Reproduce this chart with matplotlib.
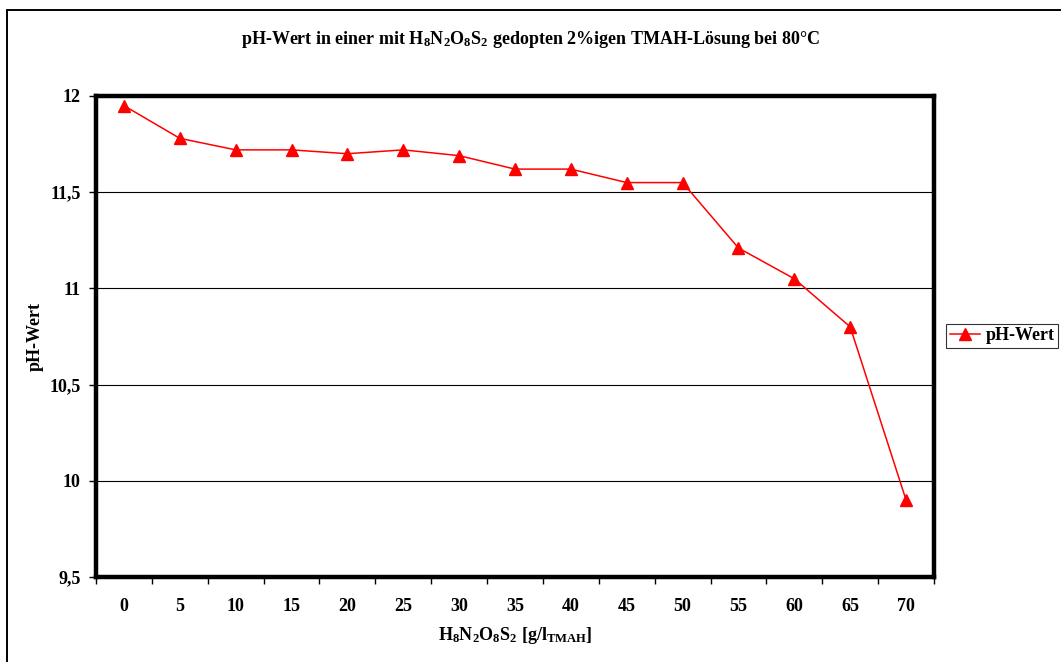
import matplotlib
matplotlib.use("Agg")
import matplotlib.pyplot as plt
from matplotlib.patches import Rectangle
from matplotlib.lines import Line2D

plt.rcParams['font.family'] = ['Liberation Serif', 'DejaVu Serif']
plt.rcParams['font.weight'] = 'bold'
plt.rcParams['mathtext.fontset'] = 'custom'
plt.rcParams['mathtext.rm'] = 'Liberation Serif:bold'
plt.rcParams['mathtext.bf'] = 'Liberation Serif:bold'
plt.rcParams['mathtext.it'] = 'Liberation Serif:bold'

# Dopant concentration categories and measured pH
categories = ['0', '5', '10', '15', '20', '25', '30', '35', '40', '45', '50', '55', '60', '65', '70']
ph_values = [11.95, 11.78, 11.72, 11.72, 11.70, 11.72, 11.69, 11.62, 11.62, 11.55, 11.55, 11.21, 11.05, 10.80, 9.90]
y_ticks = [9.5, 10, 10.5, 11, 11.5, 12]
y_tick_labels = ['9,5', '10', '10,5', '11', '11,5', '12']

FS = 13

fig = plt.figure(figsize=(10.61, 6.62), dpi=100)
ax = fig.add_axes([96 / 1061, 1 - 577 / 662, (934 - 96) / 1061, (577 - 96) / 662])

xs = list(range(len(categories)))
ax.plot(xs, ph_values, color='#ff0000', lw=1.1, marker='^', ms=8.5,
        markerfacecolor='#ff0000', markeredgecolor='#ff0000', zorder=3)

ax.set_xlim(-0.5, len(categories) - 0.5)
ax.set_ylim(9.5, 12)

# gridlines
for yv in y_ticks[1:-1]:
    ax.axhline(yv, color='black', lw=0.8, zorder=1)

# category axis: ticks on boundaries, labels at centres
ax.set_xticks([i - 0.5 for i in range(len(categories) + 1)])
ax.set_xticklabels([])
ax.set_xticks(xs, minor=True)
ax.set_xticklabels(categories, minor=True, fontsize=FS, fontweight='bold')
ax.tick_params(axis='x', which='major', direction='out', length=5, width=1, color='black')
ax.tick_params(axis='x', which='minor', length=0, pad=15)

ax.set_yticks(y_ticks)
ax.set_yticklabels(y_tick_labels, fontsize=FS, fontweight='bold')
ax.tick_params(axis='y', direction='out', length=5, width=1, pad=6)

for s in ax.spines.values():
    s.set_linewidth(3.2)
    s.set_color('black')

ax.set_ylabel('pH-Wert', fontsize=FS, fontweight='bold', labelpad=4)

fig.text(0.5, 1 - 40 / 662,
         r'pH-Wert in einer mit $\mathrm{H_8N_2O_8S_2}$ gedopten 2%igen TMAH-Lösung bei 80°C',
         ha='center', va='center', fontsize=FS, fontweight='bold')
fig.text(515 / 1061, 1 - 635 / 662,
         r'$\mathrm{H_8N_2O_8S_2}$ [g/l$_{\mathrm{TMAH}}$]',
         ha='center', va='center', fontsize=FS, fontweight='bold')

# legend
leg = fig.legend([Line2D([], [], color='#ff0000', lw=1.1, marker='^', ms=8.5)], ['pH-Wert'],
                 loc='center left', bbox_to_anchor=(946 / 1061, 1 - 336 / 662),
                 fontsize=FS, frameon=True, fancybox=False, borderpad=0.2,
                 handlelength=1.7, handletextpad=0.3, borderaxespad=0)
leg.get_frame().set_edgecolor('black')
leg.get_frame().set_linewidth(0.8)
for t in leg.get_texts():
    t.set_fontweight('bold')

# outer chart border
fig.patches.append(Rectangle((7 / 1061, -0.1), 1.2, 1 - 10 / 662 + 0.1,
                             transform=fig.transFigure, fill=False,
                             edgecolor='black', lw=1.4))

fig.savefig('out.png', dpi=100)
